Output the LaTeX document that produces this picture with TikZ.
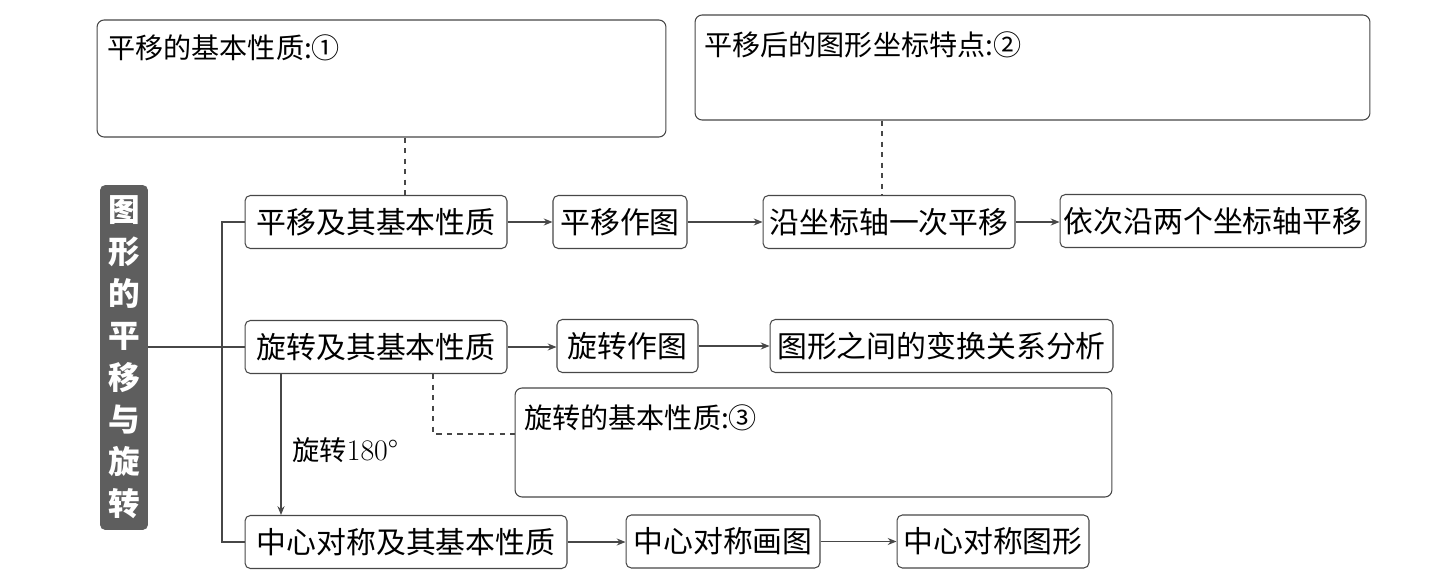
\documentclass[tikz,border=0pt]{standalone}
\usepackage{fontspec}
\newfontfamily\cjk{Noto Sans CJK SC}
\usetikzlibrary{arrows.meta}
\definecolor{linegray}{HTML}{474747}
\definecolor{titlegray}{HTML}{5E5E5E}

\begin{document}
\begin{tikzpicture}[x=0.02cm, y=-0.02cm,
    box/.style={draw=linegray, rounded corners=3pt, line width=0.6pt, inner sep=0pt,
        minimum height=1.06cm, font=\cjk\fontsize{17}{20}\selectfont},
    bigbox/.style={draw=linegray, rounded corners=4pt, line width=0.6pt},
    bigtext/.style={anchor=west, inner sep=0pt, font=\cjk\fontsize{16}{18}\selectfont},
    arr/.style={draw=linegray, line width=0.6pt, -{Stealth[length=5pt,width=4pt]}},
    link/.style={draw=linegray, line width=0.6pt},
    dashlink/.style={draw=linegray, line width=0.6pt, dashed}]

\useasboundingbox (0,0) rectangle (1443,581);

% Title
\node at (124,357.5) [fill=titlegray, rounded corners=3pt, minimum width=0.96cm,
    minimum height=6.9cm, text=white, align=center,
    font=\cjk\bfseries\fontsize{18}{23.9}\selectfont] (title) {图\\形\\的\\平\\移\\与\\旋\\转};

% Big boxes
\node at (381.5,78.5) [bigbox, minimum width=11.38cm, minimum height=2.34cm] (p1) {};
\node at (107,48) [bigtext] (p1t) {平移的基本性质:①};
\node at (1032.5,67.5) [bigbox, minimum width=13.5cm, minimum height=2.1cm] (p2) {};
\node at (704,45) [bigtext] (p2t) {平移后的图形坐标特点:②};
\node at (813.5,442.5) [bigbox, minimum width=11.94cm, minimum height=2.18cm] (p3) {};
\node at (524,418) [bigtext] (p3t) {旋转的基本性质:③};

% First row
\node at (376,222) [box, minimum width=5.24cm] (py) {平移及其基本性质};
\node at (620,222) [box, minimum width=2.68cm] (pz) {平移作图};
\node at (889,222) [box, minimum width=5.04cm] (ywc) {沿坐标轴一次平移};
\node at (1213,221) [box, minimum width=6.12cm] (yc) {依次沿两个坐标轴平移};

% Second row
\node at (376,347) [box, minimum width=5.24cm] (xz) {旋转及其基本性质};
\node at (627.5,346) [box, minimum width=2.82cm] (xzt) {旋转作图};
\node at (941.5,346) [box, minimum width=6.86cm] (fx) {图形之间的变换关系分析};

% Third row
\node at (406,542) [box, minimum width=6.44cm] (zx) {中心对称及其基本性质};
\node at (723,541.5) [box, minimum width=3.88cm] (zh) {中心对称画图};
\node at (993,541.5) [box, minimum width=3.84cm] (zt) {中心对称图形};

% Trunk
\coordinate (trunk) at (222,347);
\draw[link] (title.east |- xz.west) -- (xz.west);
\draw[link] (py.west) -| (trunk) |- (zx.west);

% Arrows
\draw[arr] (py.east) -- (pz.west);
\draw[arr] (pz.east) -- (ywc.west);
\draw[arr] (ywc.east) -- (yc.west |- ywc.east);
\draw[arr] (xz.east) -- (xzt.west |- xz.east);
\draw[arr] (xzt.east) -- (fx.west);
\draw[arr] (zx.east) -- (zh.west |- zx.east);
\draw[arr] (zh.east) -- (zt.west);

% Rotate 180
\coordinate (r) at (281,0);
\draw[arr] (xz.south -| r) -- (zx.north -| r);
\node at (292,450) [anchor=west, inner sep=0pt, font=\fontsize{17}{20}\selectfont] (rot) {{\cjk\fontsize{15.5}{18}\selectfont 旋转}180°};

% Dashed links
\coordinate (d1) at (405,0);
\coordinate (d2) at (882,0);
\coordinate (d3) at (433,434);
\draw[dashlink] (p1.south -| d1) -- (py.north -| d1);
\draw[dashlink] (p2.south -| d2) -- (ywc.north -| d2);
\draw[dashlink] (xz.south -| d3) |- (p3.west |- d3);

\end{tikzpicture}
\end{document}
